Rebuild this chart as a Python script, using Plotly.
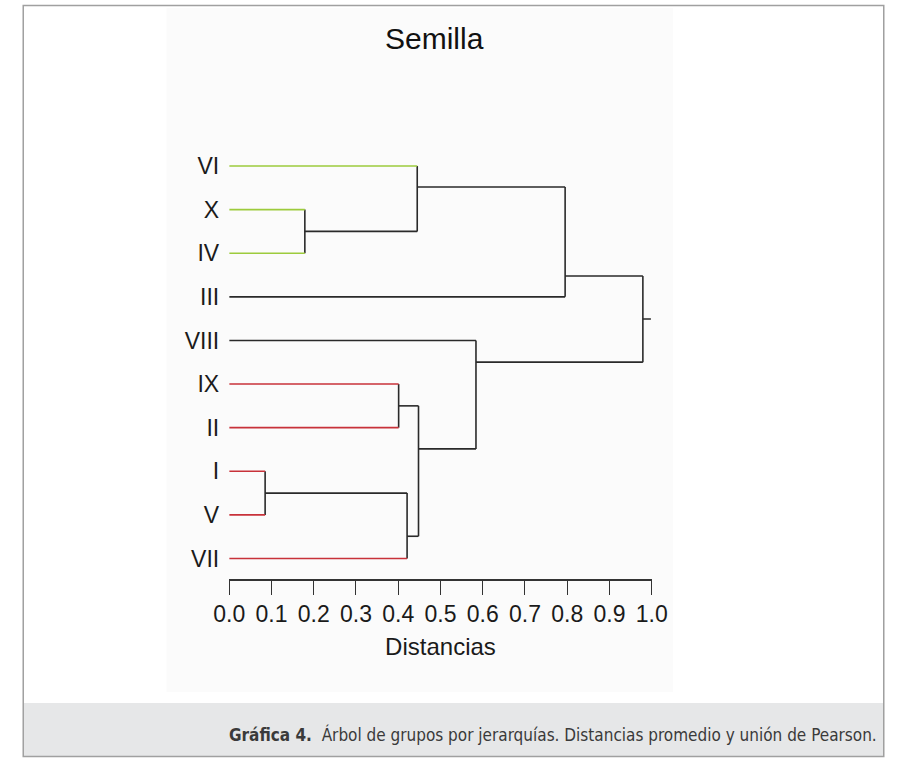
import plotly.graph_objects as go

# --- data -------------------------------------------------------------
leaves = ["VI", "X", "IV", "III", "VIII", "IX", "II", "I", "V", "VII"]
leaf_group = ["verde", "verde", "verde", "negro", "negro",
              "rojo", "rojo", "rojo", "rojo", "rojo"]

# agglomeration steps: leaves are nodes 0-9, each merge creates node 10, 11, ...
merge_a = [1, 7, 5, 11, 0, 12, 4, 14, 17]
merge_b = [2, 8, 6, 9, 10, 13, 15, 3, 16]
merge_dist = [0.179, 0.085, 0.401, 0.421, 0.445, 0.448, 0.584, 0.795, 0.979]

tick_vals = [0.0, 0.1, 0.2, 0.3, 0.4, 0.5, 0.6, 0.7, 0.8, 0.9, 1.0]
tick_labels = ["0.0", "0.1", "0.2", "0.3", "0.4", "0.5",
               "0.6", "0.7", "0.8", "0.9", "1.0"]

# --- drawing parameters -------------------------------------------------
# where each join sits between its two branches (0 = upper, 1 = lower)
join_frac = [0.5, 0.5, 0.5, 0.66, 0.32, 0.33, 0.2, 0.81, 0.5]
root_stub = 0.019
colors = {"verde": "#9dcb3c", "rojo": "#c8323a", "negro": "#2a2a2a"}
FONT = "Arial, 'Liberation Sans', sans-serif"
CAPTION_FONT = "'Liberation Sans Narrow', 'DejaVu Sans Condensed', sans-serif"

W, H = 907, 758

# --- dendrogram geometry ---------------------------------------------------
node_y = list(range(len(leaves)))
node_h = [0.0] * len(leaves)
segs = {"verde": ([], []), "rojo": ([], []), "negro": ([], [])}


def add(col, xs, ys):
    segs[col][0].extend(xs + [None])
    segs[col][1].extend(ys + [None])


for a, b, d, f in zip(merge_a, merge_b, merge_dist, join_frac):
    ya, yb = node_y[a], node_y[b]
    for child, yc in ((a, ya), (b, yb)):
        col = leaf_group[child] if child < len(leaves) else "negro"
        add(col, [node_h[child], d], [yc, yc])
    add("negro", [d, d], [ya, yb])
    node_y.append(ya + f * (yb - ya))
    node_h.append(d)

add("negro", [node_h[-1], node_h[-1] + root_stub], [node_y[-1], node_y[-1]])

fig = go.Figure()
for col in ("negro", "verde", "rojo"):
    xs, ys = segs[col]
    fig.add_trace(go.Scatter(
        x=xs, y=ys, mode="lines",
        line=dict(color=colors[col], width=1.6),
        hoverinfo="skip", showlegend=False,
    ))

# --- layout ---------------------------------------------------------------------
x0_px, x1_px = 221, 659
top_px, axis_px = 144.2, 579

fig.update_layout(
    width=W, height=H,
    margin=dict(l=0, r=0, t=0, b=0),
    paper_bgcolor="white",
    plot_bgcolor="#fbfbfb",
    font=dict(family=FONT, color="#1a1a1a"),
    xaxis=dict(
        domain=[x0_px / W, x1_px / W],
        range=[0, 1],
        tickmode="array", tickvals=tick_vals, ticktext=tick_labels,
        ticks="outside", ticklen=14, tickwidth=1.3, tickcolor="#333333",
        showline=True, linecolor="#333333", linewidth=1.5,
        showgrid=False, zeroline=False,
        tickfont=dict(size=23, family=FONT, color="#1a1a1a"),
        title=dict(text="Distancias", standoff=12,
                   font=dict(size=24, family=FONT, color="#1a1a1a")),
        fixedrange=True,
    ),
    yaxis=dict(
        domain=[1 - axis_px / H, 1 - top_px / H],
        range=[9.47, -0.5],
        tickmode="array", tickvals=list(range(len(leaves))), ticktext=leaves,
        ticks="", showline=False, showgrid=False, zeroline=False,
        ticklabelstandoff=9,
        tickfont=dict(size=23, family=FONT, color="#1a1a1a"),
        fixedrange=True,
    ),
    shapes=[
        # chart panel
        dict(type="rect", xref="paper", yref="paper", layer="below",
             x0=156 / W, x1=681 / W, y0=1 - 692 / H, y1=1 - 8 / H,
             fillcolor="#fbfbfb", line=dict(width=0)),
        # caption band
        dict(type="rect", xref="paper", yref="paper", layer="below",
             x0=8 / W, x1=899 / W, y0=1 - 756 / H, y1=1 - 703 / H,
             fillcolor="#e6e7e8", line=dict(width=0)),
        # outer frame
        dict(type="rect", xref="paper", yref="paper", layer="above",
             x0=7.5 / W, x1=899.5 / W, y0=1 - 756.5 / H, y1=1 - 5.5 / H,
             fillcolor="rgba(0,0,0,0)", line=dict(color="#a0a0a0", width=1.5)),
    ],
    annotations=[
        dict(text="Semilla", xref="paper", yref="paper",
             x=434 / W, y=1 - 38 / H, xanchor="center", yanchor="middle",
             showarrow=False, font=dict(size=30, family=FONT, color="#111111")),
        dict(text="<b>Gráfica 4.</b>  Árbol de grupos por jerarquías. "
                  "Distancias promedio y unión de Pearson.",
             xref="paper", yref="paper",
             x=895 / W, y=1 - 734 / H, xanchor="right", yanchor="middle",
             showarrow=False,
             font=dict(size=17, family=CAPTION_FONT, color="#3a3a3a")),
    ],
)

fig.write_html("out.html")
